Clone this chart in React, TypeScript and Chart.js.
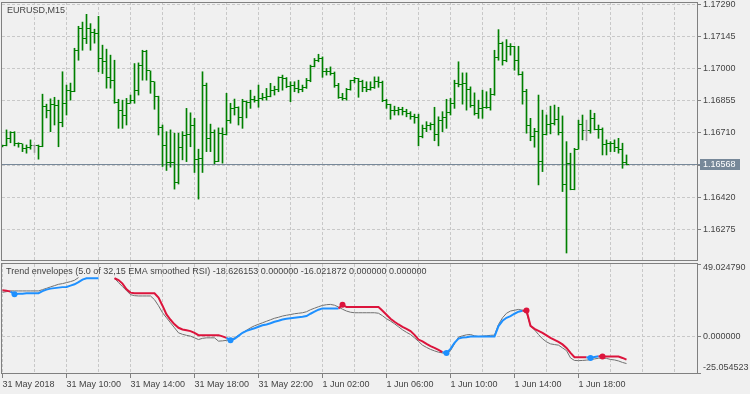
import React, { useEffect, useRef } from 'react';
import { Chart, registerables } from 'chart.js';

Chart.register(...registerables);

// ---------- data ----------
const symbolTitle = 'EURUSD,M15';
const indicatorTitle =
  'Trend envelopes (5.0 of 32,15 EMA smoothed RSI) -18.626153 0.000000 -16.021872 0.000000 0.000000';

const opens = [
  1.16650,1.16652,1.16683,1.16713,1.16664,1.16661,1.16641,1.16646,1.16652,1.16652,
  1.16648,1.16831,1.16813,1.16840,1.16836,1.16756,1.16845,1.16900,1.16896,1.17083,
  1.17182,1.17138,1.17181,1.17165,1.17160,1.17046,1.17034,1.16962,1.16948,1.16846,
  1.16813,1.16791,1.16845,1.16858,1.16903,1.17016,1.17076,1.16990,1.16941,1.16873,
  1.16733,1.16652,1.16577,1.16575,1.16487,1.16646,1.16698,1.16701,1.16742,1.16589,
  1.16595,1.16926,1.16686,1.16710,1.16581,1.16709,1.16702,1.16768,1.16821,1.16827,
  1.16782,1.16851,1.16848,1.16862,1.16858,1.16866,1.16871,1.16873,1.16900,1.16905,
  1.16959,1.16956,1.16918,1.16926,1.16911,1.16907,1.16916,1.16948,1.17011,1.17038,
  1.17046,1.16989,1.16986,1.16978,1.16926,1.16871,1.16866,1.16907,1.16945,1.16956,
  1.16941,1.16916,1.16907,1.16916,1.16941,1.16938,1.16858,1.16840,1.16813,1.16810,
  1.16817,1.16806,1.16799,1.16783,1.16781,1.16692,1.16731,1.16746,1.16750,1.16705,
  1.16768,1.16782,1.16804,1.16845,1.16934,1.16930,1.16934,1.16907,1.16836,1.16800,
  1.16821,1.16825,1.16826,1.16885,1.17050,1.17113,1.17038,1.17101,1.17098,1.17038,
  1.16975,1.16896,1.16746,1.16693,1.16716,1.16581,1.16705,1.16750,1.16755,1.16772,
  1.16710,1.16476,1.16574,1.16457,1.16637,1.16750,1.16720,1.16720,1.16776,1.16728,
  1.16724,1.16656,1.16661,1.16664,1.16646,1.16634,1.16577,
];
const highs = [
  1.16656,1.16724,1.16716,1.16716,1.16666,1.16661,1.16656,1.16679,1.16656,1.16656,
  1.16885,1.16840,1.16864,1.16871,1.16858,1.16986,1.16926,1.16935,1.17092,1.17191,
  1.17210,1.17245,1.17203,1.17178,1.17236,1.17106,1.17088,1.17061,1.17038,1.16862,
  1.16858,1.16866,1.16881,1.17023,1.17026,1.17083,1.17083,1.16990,1.16941,1.16876,
  1.16746,1.16716,1.16724,1.16709,1.16709,1.16716,1.16821,1.16801,1.16776,1.16637,
  1.16986,1.16935,1.16750,1.16724,1.16733,1.16733,1.16889,1.16844,1.16863,1.16828,
  1.16862,1.16855,1.16903,1.16876,1.16926,1.16889,1.16911,1.16934,1.16921,1.16963,
  1.16971,1.16960,1.16941,1.16941,1.16948,1.16926,1.16956,1.17016,1.17046,1.17065,
  1.17053,1.17001,1.17008,1.16985,1.16934,1.16889,1.16911,1.16948,1.16961,1.16956,
  1.16948,1.16941,1.16941,1.16963,1.16963,1.16944,1.16862,1.16840,1.16831,1.16826,
  1.16826,1.16817,1.16806,1.16795,1.16795,1.16746,1.16761,1.16756,1.16826,1.16783,
  1.16806,1.16862,1.16866,1.16948,1.17031,1.16981,1.16981,1.16918,1.16891,1.16858,
  1.16903,1.16896,1.16911,1.17083,1.17176,1.17120,1.17131,1.17113,1.17101,1.17101,
  1.16986,1.16907,1.16776,1.16731,1.16881,1.16813,1.16791,1.16831,1.16836,1.16826,
  1.16787,1.16671,1.16619,1.16641,1.16768,1.16791,1.16768,1.16813,1.16799,1.16746,
  1.16733,1.16679,1.16671,1.16679,1.16686,1.16664,1.16611,
];
const lows = [
  1.16647,1.16652,1.16666,1.16652,1.16646,1.16626,1.16619,1.16637,1.16622,1.16592,
  1.16648,1.16778,1.16716,1.16746,1.16648,1.16738,1.16791,1.16858,1.16896,1.17038,
  1.17083,1.17113,1.17083,1.17115,1.16986,1.16978,1.16912,1.16912,1.16844,1.16731,
  1.16731,1.16746,1.16844,1.16844,1.16881,1.16948,1.16948,1.16889,1.16817,1.16701,
  1.16559,1.16541,1.16556,1.16457,1.16480,1.16589,1.16581,1.16648,1.16532,1.16412,
  1.16532,1.16626,1.16626,1.16571,1.16581,1.16574,1.16701,1.16754,1.16791,1.16746,
  1.16731,1.16778,1.16821,1.16849,1.16826,1.16858,1.16858,1.16873,1.16881,1.16896,
  1.16903,1.16914,1.16851,1.16896,1.16891,1.16896,1.16911,1.16941,1.17008,1.17031,
  1.16961,1.16971,1.16971,1.16916,1.16866,1.16858,1.16858,1.16903,1.16936,1.16871,
  1.16896,1.16896,1.16903,1.16911,1.16916,1.16851,1.16821,1.16772,1.16791,1.16791,
  1.16791,1.16783,1.16772,1.16754,1.16652,1.16688,1.16716,1.16724,1.16675,1.16652,
  1.16716,1.16731,1.16791,1.16821,1.16918,1.16840,1.16813,1.16826,1.16791,1.16776,
  1.16776,1.16821,1.16813,1.16880,1.17038,1.17016,1.17031,1.17061,1.16993,1.16971,
  1.16840,1.16709,1.16675,1.16646,1.16476,1.16536,1.16701,1.16706,1.16746,1.16701,
  1.16446,1.16169,1.16454,1.16454,1.16637,1.16679,1.16675,1.16709,1.16724,1.16686,
  1.16611,1.16611,1.16626,1.16626,1.16619,1.16551,1.16566,
];
const closes = [
  1.16652,1.16683,1.16713,1.16664,1.16661,1.16641,1.16646,1.16652,1.16652,1.16648,
  1.16831,1.16813,1.16840,1.16836,1.16756,1.16845,1.16900,1.16896,1.17083,1.17182,
  1.17138,1.17181,1.17165,1.17160,1.17046,1.17034,1.16962,1.16948,1.16846,1.16813,
  1.16791,1.16845,1.16858,1.16903,1.17016,1.17076,1.16990,1.16941,1.16873,1.16733,
  1.16652,1.16577,1.16575,1.16487,1.16646,1.16698,1.16701,1.16742,1.16589,1.16595,
  1.16926,1.16686,1.16710,1.16581,1.16709,1.16702,1.16768,1.16821,1.16827,1.16782,
  1.16851,1.16848,1.16862,1.16858,1.16866,1.16871,1.16873,1.16900,1.16905,1.16959,
  1.16956,1.16918,1.16926,1.16911,1.16907,1.16916,1.16948,1.17011,1.17038,1.17046,
  1.16989,1.16986,1.16978,1.16926,1.16871,1.16866,1.16907,1.16945,1.16956,1.16941,
  1.16916,1.16907,1.16916,1.16941,1.16938,1.16858,1.16840,1.16813,1.16810,1.16817,
  1.16806,1.16799,1.16783,1.16781,1.16692,1.16731,1.16746,1.16750,1.16705,1.16768,
  1.16782,1.16804,1.16845,1.16934,1.16930,1.16934,1.16907,1.16836,1.16800,1.16821,
  1.16825,1.16826,1.16885,1.17050,1.17113,1.17038,1.17101,1.17098,1.17038,1.16975,
  1.16896,1.16746,1.16693,1.16716,1.16581,1.16705,1.16750,1.16755,1.16772,1.16710,
  1.16476,1.16574,1.16457,1.16637,1.16750,1.16720,1.16720,1.16776,1.16728,1.16724,
  1.16656,1.16661,1.16664,1.16646,1.16634,1.16577,1.16568,
];
const currentPrice = 1.16568;

const priceTicks = [1.16275, 1.16420, 1.16565, 1.16710, 1.16855, 1.17000, 1.17145, 1.17290];

// indicator: trend envelope (thick) and smoothed RSI (thin)
const envelope = [
  31.13,30.92,30.24,28.53,28.87,28.87,29.08,29.08,29.08,29.22,
  30.58,31.60,32.29,32.63,32.97,33.31,33.45,34.33,35.22,36.72,
  38.43,39.32,39.32,39.32,39.32,null,null,null,39.32,38.09,
  35.70,31.81,29.56,29.08,29.08,29.08,29.08,29.08,29.08,26.14,
  20.68,14.74,11.13,8.05,5.67,4.51,3.96,3.41,2.25,0.68,
  0.68,0.68,0.68,0.68,0.68,-0.14,-1.16,-2.73,-1.84,0.20,
  2.25,3.62,4.51,5.32,6.35,7.37,7.92,8.74,9.76,10.44,
  11.33,11.81,12.15,12.49,12.83,13.17,13.65,15.22,16.59,17.95,
  18.84,18.84,18.84,18.84,18.84,21.37,19.80,19.80,19.80,19.80,
  19.80,19.80,19.80,19.80,19.80,17.27,14.54,11.81,9.76,7.92,
  6.35,4.98,3.41,0.89,-2.32,-3.55,-5.26,-6.83,-7.99,-9.35,
  -10.92,-11.40,-8.67,-4.57,-1.64,-0.96,-0.82,-0.27,-0.27,-0.27,
  -0.27,-0.27,-0.27,-0.27,6.83,10.44,12.49,13.65,15.22,16.59,
  17.27,17.47,7.03,4.98,3.62,2.25,0.55,-1.16,-2.53,-3.89,
  -5.60,-7.99,-11.40,-14.33,-14.33,-14.33,-14.33,-14.81,-14.13,-13.65,
  -13.92,-13.92,-13.92,-13.92,-13.92,-14.81,-16.02,
];
const smoothedRsi = [
  29.76,30.24,30.72,30.72,30.72,30.72,30.72,30.72,30.72,30.72,
  31.60,32.49,33.45,34.33,35.22,35.70,36.38,37.06,37.95,39.80,
  null,null,null,null,null,null,null,null,39.32,36.38,
  33.65,30.92,28.19,27.51,27.30,27.30,27.30,27.30,24.78,20.68,
  15.90,12.49,9.08,5.67,2.25,1.23,0.55,0,-1.16,-2.32,
  -1.50,-1.16,-1.16,-1.16,-3.41,-3.21,-2.87,-2.32,-1.16,0.55,
  2.25,3.96,5.67,7.03,8.05,9.08,10.10,11.13,12.15,12.83,
  13.65,14.20,14.68,15.22,15.56,15.90,16.59,17.95,18.98,20.00,
  20.89,21.37,21.57,21.02,19.80,18.29,17.06,16.25,15.90,15.90,
  15.90,15.90,15.90,15.90,15.56,13.86,11.81,10.24,8.40,6.35,
  4.30,2.59,1.09,-1.16,-3.55,-6.14,-7.65,-9.01,-10.03,-10.92,
  -11.40,-11.74,-9.83,-5.26,-0.68,0.20,0.89,1.09,0.20,-0.27,
  0,0.20,0.55,0.68,7.92,12.49,15.56,17.06,17.61,18.16,
  17.61,15.90,6.83,4.30,1.09,-1.84,-3.89,-5.26,-5.73,-6.14,
  -7.99,-9.83,-14.81,-16.52,-16.66,-16.52,-16.31,-15.97,-15.49,-15.02,
  -14.81,-15.15,-15.84,-16.18,-16.86,-17.88,-18.63,
];
// +1 = up trend (blue), -1 = down trend (red)
const trend = [
  -1,-1,-1,1,1,1,1,1,1,1, 1,1,1,1,1,1,1,1,1,1, 1,1,1,1,1,-1,-1,-1,-1,-1,
  -1,-1,-1,-1,-1,-1,-1,-1,-1,-1, -1,-1,-1,-1,-1,-1,-1,-1,-1,-1,
  -1,-1,-1,-1,-1,-1,-1,1,1,1, 1,1,1,1,1,1,1,1,1,1, 1,1,1,1,1,1,1,1,1,1,
  1,1,1,1,1,-1,-1,-1,-1,-1, -1,-1,-1,-1,-1,-1,-1,-1,-1,-1,
  -1,-1,-1,-1,-1,-1,-1,-1,-1,-1, -1,1,1,1,1,1,1,1,1,1,
  1,1,1,1,1,1,1,1,1,1, 1,-1,-1,-1,-1,-1,-1,-1,-1,-1,
  -1,-1,-1,-1,-1,-1,-1,1,1,1, -1,-1,-1,-1,-1,-1,-1,
];
const trendStarts = [3, 57, 85, 111, 131, 147, 150];
const indicatorTicks = [-25.054523, 0, 49.02479];

const gridBars = [8,16,24,32,40,48,56,64,72,80,88,96,104,112,120,128,136,144,152,160,168];
const timeTickBars = [0, 16, 32, 48, 64, 80, 96, 112, 128, 144];
const timeTickLabels = [
  '31 May 2018', '31 May 10:00', '31 May 14:00', '31 May 18:00', '31 May 22:00',
  '1 Jun 02:00', '1 Jun 06:00', '1 Jun 10:00', '1 Jun 14:00', '1 Jun 18:00',
];

// ---------- style ----------
const FONT = '"Liberation Sans", Arial, sans-serif';
const TEXT = '#444444';
const AXIS = '#808080';
const GRID = '#c8c8c8';
const GREEN = '#008000';
const DOJI = '#a0a0a0';
const PRICE = '#778899';
const BLUE = '#1e90ff';
const RED = '#dc143c';
const THIN = '#707070';
const X_MIN = -0.125;
const X_MAX = 173.625;
const P_MIN = 1.16133;
const P_MAX = 1.173005;

const ohlcTicksPlugin = {
  id: 'ohlcTicks',
  afterDatasetsDraw(chart: any) {
    const { ctx, chartArea, scales } = chart;
    const x = scales.x;
    const y = scales.y;
    ctx.save();
    ctx.beginPath();
    ctx.rect(chartArea.left, chartArea.top, chartArea.width, chartArea.height);
    ctx.clip();
    for (let i = 0; i < closes.length; i++) {
      const cx = Math.round(x.getPixelForValue(i) - 0.5);
      const yo = Math.round(y.getPixelForValue(opens[i]) - 0.5);
      const yc = Math.round(y.getPixelForValue(closes[i]) - 0.5);
      ctx.fillStyle = opens[i] === closes[i] ? DOJI : GREEN;
      ctx.fillRect(cx - 2, yo, 2, 1);
      ctx.fillRect(cx + 1, yc, 2, 1);
    }
    ctx.restore();
  },
};

const mainOverlay = {
  id: 'mainOverlay',
  beforeDatasetsDraw(chart: any) {
    const { ctx, chartArea, scales } = chart;
    const py = Math.round(scales.y.getPixelForValue(currentPrice) - 0.5) + 0.5;
    ctx.save();
    ctx.strokeStyle = PRICE;
    ctx.lineWidth = 1;
    ctx.beginPath();
    ctx.moveTo(chartArea.left, py);
    ctx.lineTo(chartArea.right + 3, py);
    ctx.stroke();
    ctx.restore();
  },
  afterDraw(chart: any) {
    const { ctx, chartArea, scales } = chart;
    ctx.save();
    ctx.strokeStyle = AXIS;
    ctx.lineWidth = 1;
    ctx.strokeRect(chartArea.left - 0.5, chartArea.top + 0.5, chartArea.width + 1, chartArea.height - 1);
    // title
    ctx.fillStyle = TEXT;
    ctx.font = `9px ${FONT}`;
    ctx.textBaseline = 'alphabetic';
    ctx.textAlign = 'left';
    ctx.fillText(symbolTitle, 7, 12.5);
    // current price box
    const py = Math.round(scales.y.getPixelForValue(currentPrice) - 0.5) + 0.5;
    ctx.fillStyle = PRICE;
    ctx.fillRect(chartArea.right + 3, Math.round(py - 6), 40, 11);
    ctx.fillStyle = '#ffffff';
    ctx.textBaseline = 'middle';
    ctx.fillText(currentPrice.toFixed(5), chartArea.right + 6, py);
    ctx.restore();
  },
};

const subOverlay = {
  id: 'subOverlay',
  afterDraw(chart: any) {
    const { ctx, chartArea, scales } = chart;
    ctx.save();
    ctx.strokeStyle = AXIS;
    ctx.lineWidth = 1;
    ctx.strokeRect(chartArea.left - 0.5, chartArea.top - 0.5, chartArea.width + 1, chartArea.height + 1);
    ctx.fillStyle = TEXT;
    ctx.font = `9px ${FONT}`;
    ctx.textAlign = 'left';
    ctx.textBaseline = 'alphabetic';
    ctx.fillText(indicatorTitle, 6, 12);
    ctx.textBaseline = 'middle';
    indicatorTicks.forEach((v, k) => {
      let py = scales.y.getPixelForValue(v);
      if (k === 0) py -= 5.5;
      if (k === indicatorTicks.length - 1) py += 4;
      ctx.fillText(v.toFixed(6), chartArea.right + 6, py);
    });
    ctx.restore();
  },
};

export default function App() {
  const mainRef = useRef<HTMLCanvasElement>(null);
  const subRef = useRef<HTMLCanvasElement>(null);

  useEffect(() => {
    const barColors = opens.map((o, i) => (o === closes[i] ? DOJI : GREEN));
    const main = new Chart(mainRef.current as HTMLCanvasElement, {
      type: 'bar',
      data: {
        datasets: [
          {
            data: lows.map((l, i) => ({ x: i, y: [l, highs[i]] })) as any,
            backgroundColor: barColors,
            borderWidth: 0,
            barThickness: 1,
            grouped: false,
          } as any,
        ],
      },
      options: {
        responsive: false,
        animation: false,
        events: [],
        layout: { padding: { left: 2, top: 2, right: 0, bottom: 1 } },
        plugins: { legend: { display: false }, tooltip: { enabled: false } },
        scales: {
          x: {
            type: 'linear',
            min: X_MIN,
            max: X_MAX,
            offset: false,
            grid: { offset: false, color: GRID, drawTicks: false, lineWidth: 1 },
            border: { display: false, dash: [3, 2] },
            ticks: { display: false },
            afterBuildTicks: (s: any) => { s.ticks = gridBars.map((v) => ({ value: v })); },
            afterFit: (s: any) => { s.height = 0; s.paddingLeft = 0; s.paddingRight = 0; },
          } as any,
          y: {
            type: 'linear',
            position: 'right',
            min: P_MIN,
            max: P_MAX,
            grid: { color: GRID, tickColor: AXIS, tickLength: 4, tickBorderDash: [] },
            border: { display: false, dash: [3, 2] },
            ticks: {
              color: TEXT,
              font: { family: FONT, size: 9 },
              padding: 2,
              callback: (v: any) => Number(v).toFixed(5),
            },
            afterBuildTicks: (s: any) => { s.ticks = priceTicks.map((v) => ({ value: v })); },
            afterFit: (s: any) => { s.width = 53; s.paddingTop = 0; s.paddingBottom = 0; },
          } as any,
        },
      },
      plugins: [mainOverlay, ohlcTicksPlugin],
    });

    const sub = new Chart(subRef.current as HTMLCanvasElement, {
      type: 'line',
      data: {
        datasets: [
          {
            data: envelope.map((v, i) => ({ x: i, y: v })) as any,
            borderColor: RED,
            borderWidth: 2,
            tension: 0,
            spanGaps: false,
            segment: {
              borderColor: (c: any) => (trend[c.p1DataIndex] > 0 ? BLUE : RED),
            },
            pointRadius: (c: any) => (trendStarts.includes(c.dataIndex) ? 3 : 0),
            pointBackgroundColor: (c: any) => (trend[c.dataIndex] > 0 ? BLUE : RED),
            pointBorderWidth: 0,
            pointHoverRadius: 0,
          } as any,
          {
            data: smoothedRsi.map((v, i) => ({ x: i, y: v })) as any,
            borderColor: THIN,
            borderWidth: 1,
            tension: 0,
            spanGaps: false,
            pointRadius: 0,
          } as any,
        ],
      },
      options: {
        responsive: false,
        animation: false,
        events: [],
        layout: { padding: { left: 2, top: 2, right: 0, bottom: 0 } },
        plugins: { legend: { display: false }, tooltip: { enabled: false } },
        scales: {
          x: {
            type: 'linear',
            min: X_MIN,
            max: X_MAX,
            offset: false,
            grid: {
              color: GRID,
              drawTicks: true,
              tickLength: 5,
              tickColor: (c: any) => (c.tick && timeTickBars.includes(c.tick.value) ? AXIS : 'rgba(0,0,0,0)'),
              tickBorderDash: [],
            },
            border: { display: false, dash: [3, 2] },
            ticks: {
              autoSkip: false,
              maxRotation: 0,
              align: 'start',
              padding: 1,
              color: TEXT,
              font: { family: FONT, size: 9 },
              callback: (v: any) => {
                const k = timeTickBars.indexOf(Number(v));
                return k >= 0 ? timeTickLabels[k] : '';
              },
            },
            afterBuildTicks: (s: any) => {
              s.ticks = [0, ...gridBars].map((v) => ({ value: v }));
            },
            afterFit: (s: any) => { s.height = 21; s.paddingLeft = 0; s.paddingRight = 0; },
          } as any,
          y: {
            type: 'linear',
            position: 'right',
            min: indicatorTicks[0],
            max: indicatorTicks[2],
            grid: {
              color: (c: any) => (c.tick && c.tick.value === 0 ? GRID : 'rgba(0,0,0,0)'),
              tickColor: AXIS,
              tickLength: 4,
              tickBorderDash: [],
            },
            border: { display: false, dash: [3, 2] },
            ticks: { display: false },
            afterBuildTicks: (s: any) => { s.ticks = indicatorTicks.map((v) => ({ value: v })); },
            afterFit: (s: any) => { s.width = 53; s.paddingTop = 0; s.paddingBottom = 0; },
          } as any,
        },
      },
      plugins: [subOverlay],
    });

    return () => {
      main.destroy();
      sub.destroy();
    };
  }, []);

  return (
    <div
      style={{
        position: 'absolute',
        left: 0,
        top: 0,
        width: 750,
        height: 394,
        background: '#f0f0f0',
        overflow: 'hidden',
      }}
    >
      <canvas
        ref={mainRef}
        width={750}
        height={262}
        style={{ position: 'absolute', left: 0, top: 0, width: 750, height: 262 }}
      />
      <canvas
        ref={subRef}
        width={750}
        height={132}
        style={{ position: 'absolute', left: 0, top: 262, width: 750, height: 132 }}
      />
    </div>
  );
}
